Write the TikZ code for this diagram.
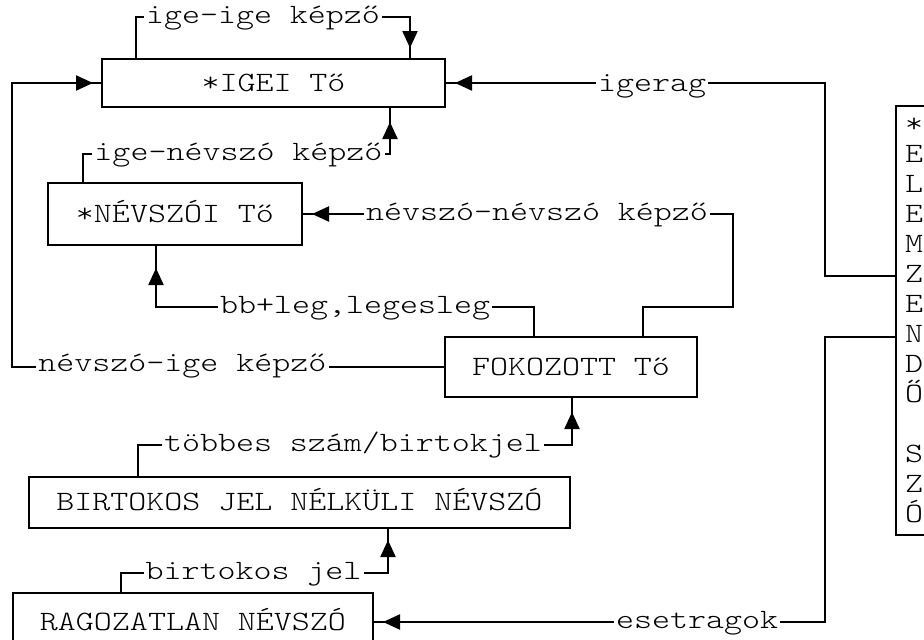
\documentclass[tikz,border=0pt]{standalone}
\usepackage{fontspec}
\newfontfamily\diamono{Latin Modern Mono Light}[FakeStretch=1.2245]
\usetikzlibrary{positioning, arrows.meta, decorations.markings}

\newcommand{\diafont}{\diamono\fontsize{28}{30}\selectfont}

\begin{document}
\begin{tikzpicture}[x=1pt, y=-1pt, line width=2.2pt, font=\diafont,
    tobox/.style={draw, rectangle, inner sep=0pt, outer sep=0pt, text height=16pt, text depth=0pt},
    lbl/.style={fill=white, inner xsep=2pt, inner ysep=1pt, anchor=base},
    tipat/.style={postaction={decorate}, decoration={markings, mark=at position -#1 with {\arrow{Triangle[width=15pt, length=17pt]}}}},
    tipat/.default=10pt]
  \useasboundingbox (0,0) rectangle (924,640);

  \node[tobox, minimum width=343pt, minimum height=48pt] (igei) at (273.5,83) {*IGEI Tő};
  \node[tobox, minimum width=254pt, minimum height=62pt] (nevszoi) at (175,214) {*NÉVSZÓI Tő};
  \node[tobox, minimum width=252pt, minimum height=60pt] (fokozott) at (571,367) {FOKOZOTT Tő};
  \node[tobox, minimum width=541pt, minimum height=51pt] (birtokos) at (299.5,502.5) {BIRTOKOS JEL NÉLKÜLI NÉVSZÓ};
  \node[tobox, minimum width=360pt, minimum height=58pt] (ragozatlan) at (193,622) {RAGOZATLAN NÉVSZÓ};
  \node[draw, anchor=north west, inner xsep=9pt, inner ysep=0pt, outer sep=0pt, text width=18pt,
        align=center, minimum height=429pt] (elemzo) at (896,106)
        {*\\E\\L\\E\\M\\Z\\E\\N\\D\\Ő\\[30pt]S\\Z\\Ó};

  \draw[tipat=11pt] (136,0 |- igei.north) |- (410,17) -- (410,0 |- igei.north);
  \draw[tipat=15pt] (83,0 |- nevszoi.north) |- (390,154) -- (390,0 |- igei.south);
  \draw[tipat] (643,0 |- fokozott.north) |- (733,307) |- (nevszoi.east);
  \draw[tipat=23pt] (534,0 |- fokozott.north) |- (156,307) -- (156,0 |- nevszoi.south);
  \draw[tipat=9pt] (fokozott.west) -| (12,83) -- (igei.west);
  \draw[tipat] (elemzo.west |- 0,276) -| (825,83) -- (igei.east);
  \draw[tipat] (elemzo.west |- 0,337) -| (825,622) -- (ragozatlan.east);
  \draw[tipat=15pt] (138,0 |- birtokos.north) |- (572,445) -- (572,0 |- fokozott.south);
  \draw[tipat=12pt] (121,0 |- ragozatlan.north) |- (388,573) -- (388,0 |- birtokos.south);

  \node[lbl] (igeige) at (263,23) {ige-ige képző};
  \node[lbl] (igenevszo) at (238.5,160) {ige-névszó képző};
  \node[lbl] (nevszonevszo) at (537,220) {névszó-névszó képző};
  \node[lbl] (fokjel) at (355,313) {bb+leg,legesleg};
  \node[lbl] (nevszoige) at (182.5,371) {névszó-ige képző};
  \node[lbl] (igerag) at (652,91) {igerag};
  \node[lbl] (tobbes) at (353,451) {többes szám/birtokjel};
  \node[lbl] (birtjel) at (253.5,579) {birtokos jel};
  \node[lbl] (esetrag) at (697,628) {esetragok};
\end{tikzpicture}
\end{document}
